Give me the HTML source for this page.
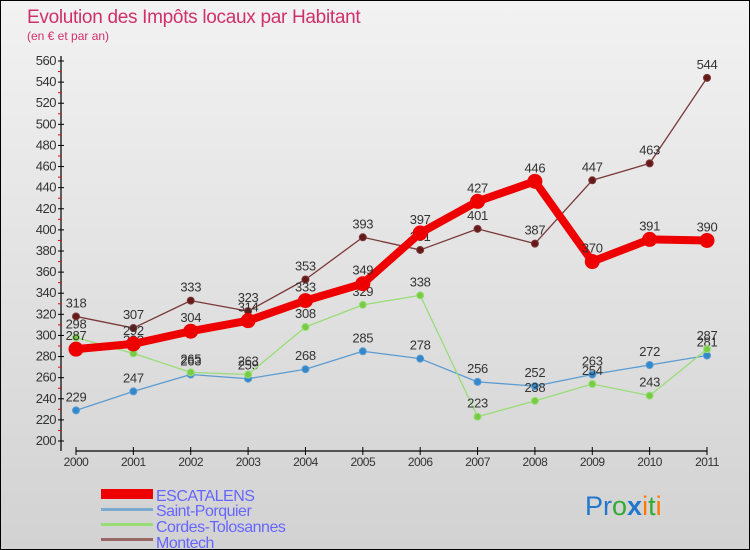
<!DOCTYPE html>
<html><head><meta charset="utf-8"><style>
body{margin:0}
#c{width:750px;height:550px;position:relative;background:linear-gradient(#f2f2f2,#d2d2d2);box-sizing:border-box;border:1px solid #000;overflow:hidden;font-family:"Liberation Sans",sans-serif}
svg{position:absolute;left:0;top:0}
</style></head><body>
<div id="c">
<svg id="s" width="750" height="550">
<text x="26" y="22" font-size="19" fill="#d0306a" letter-spacing="-0.3">Evolution des Impôts locaux par Habitant</text>
<text x="26" y="39" font-size="12" fill="#d0306a">(en € et par an)</text>
<g id="g"></g>
<g>
<rect x="100" y="488" width="52" height="10" fill="#ee0000"/>
<text x="155" y="500" font-size="16" fill="#6666ff" letter-spacing="-0.5">ESCATALENS</text>
<rect x="100" y="507" width="52" height="3" fill="#7aaad0"/>
<text x="155" y="515" font-size="16" fill="#6666ff" letter-spacing="-0.5">Saint-Porquier</text>
<rect x="100" y="522" width="52" height="3" fill="#99dd77"/>
<text x="155" y="531" font-size="16" fill="#6666ff" letter-spacing="-0.5">Cordes-Tolosannes</text>
<rect x="100" y="537" width="52" height="3" fill="#996666"/>
<text x="155" y="547" font-size="16" fill="#6666ff" letter-spacing="-0.5">Montech</text>
</g>
<text x="584" y="514" font-size="27"><tspan fill="#2277cc">Pr</tspan><tspan fill="#33aa33">o</tspan><tspan fill="#2277cc" font-weight="bold">x</tspan><tspan fill="#ff7700">i</tspan><tspan fill="#33aa33">t</tspan><tspan fill="#ff7700">i</tspan></text>
</svg>
</div>
<script>
const years=["2000","2001","2002","2003","2004","2005","2006","2007","2008","2009","2010","2011"];
const yTicks=[200,220,240,260,280,300,320,340,360,380,400,420,440,460,480,500,520,540,560];
const escatalens=[287,292,304,314,333,349,397,427,446,370,391,390];
const saintPorquier=[229,247,263,259,268,285,278,256,252,263,272,281];
const cordes=[298,283,265,263,308,329,338,223,238,254,243,287];
const montech=[318,307,333,323,353,393,381,401,387,447,463,544];
const NS="http://www.w3.org/2000/svg";
const g=document.getElementById('g');
const X=i=>75+i*(706-75)/11;
const Y=v=>440-(v-200)*380/360;
function mk(t,a,p){const e=document.createElementNS(NS,t);for(const k in a)e.setAttribute(k,a[k]);(p||g).appendChild(e);return e;}
const ax=mk('g',{});


mk('line',{x1:60,y1:55,x2:60,y2:450,stroke:'#000','stroke-width':1.2},ax);
mk('line',{x1:75,y1:450,x2:706,y2:450,stroke:'#000','stroke-width':1.2},ax);
yTicks.forEach(v=>{
  const t=mk('text',{x:55,y:Y(v)+4,'font-size':13,fill:'#333','text-anchor':'end','letter-spacing':-0.5},ax);
  t.textContent=v;
  
  
  mk('line',{x1:57,y1:Y(v),x2:63,y2:Y(v),stroke:'#000'},ax);
  if(v<560) mk('line',{x1:57,y1:Y(v+10),x2:60,y2:Y(v+10),stroke:'#e00'},ax);
});
years.forEach((y,i)=>{
  mk('line',{x1:X(i),y1:446,x2:X(i),y2:454,stroke:'#000'},ax);
  const t=mk('text',{x:X(i),y:465,'font-size':12,fill:'#333','text-anchor':'middle','letter-spacing':-0.5},ax);
  t.textContent=y;
  
  
});
function series(data,name,color,lw,r,dot){
  const s=mk('g',{});
  
  
  mk('polyline',{points:data.map((v,i)=>X(i)+','+Y(v)).join(' '),fill:'none',stroke:color,'stroke-width':lw,'stroke-linejoin':'round'},s);
  data.forEach((v,i)=>{
    const c=mk('circle',{cx:X(i),cy:Y(v),r:r,fill:dot,stroke:color,'stroke-width':1},s);
    
    
    const t=mk('text',{x:X(i),y:Y(v)-9,'font-size':13,fill:'#333','text-anchor':'middle','letter-spacing':-0.3},s);
    t.textContent=v;
    
    
  });
}
series(saintPorquier,'saint-porquier','#5b9bd0',1.3,3.5,'#3388cc');
series(cordes,'cordes-tolosannes','#99dd77',1.3,3.5,'#77cc44');
series(montech,'montech','#7a3838',1.3,3.5,'#661a1a');
series(escatalens,'escatalens','#ee0000',8,7,'#ee0000');
</script>
</body></html>
